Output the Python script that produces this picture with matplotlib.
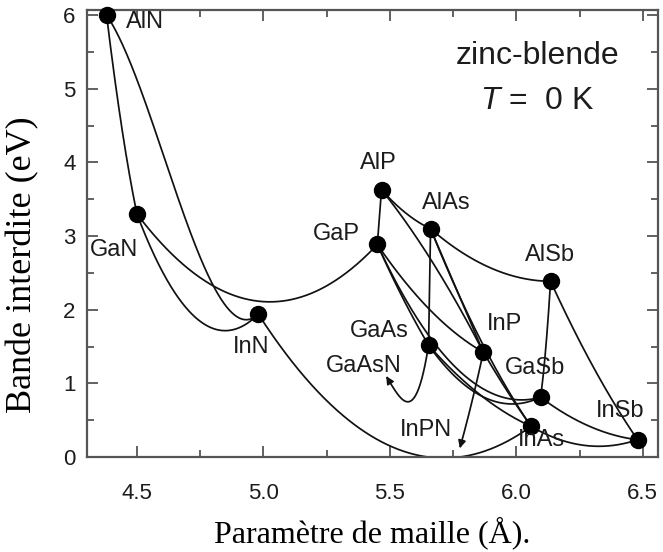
import numpy as np
import matplotlib
matplotlib.use("Agg")
import matplotlib.pyplot as plt
from matplotlib.ticker import MultipleLocator

# Binary zinc-blende compounds: lattice constant (Angstrom) and band gap at 0 K (eV)
compounds = ["AlN", "GaN", "InN", "AlP", "GaP", "AlAs", "GaAs", "InP",
             "AlSb", "GaSb", "InAs", "InSb"]
lattice = [4.38, 4.50, 4.98, 5.467, 5.4505, 5.661, 5.653, 5.8697,
           6.1355, 6.0959, 6.0583, 6.4794]
gaps = [6.00, 3.30, 1.94, 3.63, 2.886, 3.099, 1.519, 1.4236,
        2.386, 0.812, 0.417, 0.235]

# Ternary alloys (end members) and bowing coefficients b(x) = c0 + c1*x + ...
alloy_ends = [("AlN", "GaN"), ("AlN", "InN"), ("GaN", "InN"), ("GaN", "GaP"),
              ("InN", "InAs"), ("AlP", "GaP"), ("AlP", "AlAs"), ("AlAs", "AlSb"),
              ("AlAs", "GaAs"), ("GaP", "GaAs"), ("GaP", "InP"), ("GaP", "GaSb"),
              ("GaAs", "GaSb"), ("GaAs", "InAs"), ("InP", "InAs"), ("AlP", "InP"),
              ("AlAs", "InAs"), ("AlAs", "InP"), ("AlSb", "GaSb"), ("AlSb", "InSb"),
              ("GaSb", "InSb"), ("InAs", "InSb")]
alloy_bowing = [(0.7,), (-1.0, 7.0), (3.0,), (3.9,),
                (4.22,), (0.0,), (0.22,), (0.7,),
                (0.0,), (0.19,), (0.65,), (2.7,),
                (1.43,), (0.477,), (0.10,), (-0.48,),
                (0.70,), (0.0,), (0.6,), (0.43,),
                (0.415,), (0.67,)]

# Dilute nitrides drawn only up to a limited nitrogen fraction
dilute_ends = [("GaAs", "GaN"), ("InP", "InN")]
dilute_bowing = [(26.9, -226.0, 540.0), (14.5,)]
dilute_xmax = [0.145, 0.1045]

# Label text and anchor positions (lattice constant, gap)
label_text = ["AlN", "GaN", "InN", "AlP", "GaP", "AlAs", "AlSb", "GaAs", "InP",
              "GaAsN", "GaSb", "InPN", "InAs", "InSb"]
label_a = [4.53, 4.41, 4.95, 5.455, 5.29, 5.725, 6.133, 5.458, 5.953,
           5.395, 6.075, 5.642, 6.10, 6.412]
label_e = [5.90, 2.81, 1.49, 3.99, 3.03, 3.45, 2.74, 1.71, 1.81,
           1.23, 1.21, 0.37, 0.23, 0.63]

x_ticks = [4.5, 5.0, 5.5, 6.0, 6.5]
y_ticks = [0, 1, 2, 3, 4, 5, 6]

LINE = "#111111"
TXT = "#1c1c1c"
SANS = "Liberation Sans"
SERIF = "Liberation Serif"

plt.rcParams["mathtext.fontset"] = "custom"
plt.rcParams["mathtext.it"] = "Liberation Sans:italic"
plt.rcParams["mathtext.rm"] = "Liberation Sans"

props = {c: (a, e) for c, a, e in zip(compounds, lattice, gaps)}


def alloy_curve(a_name, b_name, coeffs, xmax=1.0, n=300):
    a1, e1 = props[a_name]
    a2, e2 = props[b_name]
    x = np.linspace(0.0, xmax, n)
    b = np.zeros_like(x)
    for k, c in enumerate(coeffs):
        b = b + c * x ** k
    a = (1 - x) * a1 + x * a2
    e = (1 - x) * e1 + x * e2 - b * x * (1 - x)
    return a, e


fig = plt.figure(figsize=(6.63, 5.52), dpi=100)
ax = fig.add_axes([0.131, 0.172, 0.861, 0.810])

for (p, q), coeffs in zip(alloy_ends, alloy_bowing):
    a, e = alloy_curve(p, q, coeffs)
    ax.plot(a, e, color=LINE, lw=1.25, solid_capstyle="round", zorder=2)

for (p, q), coeffs, xm in zip(dilute_ends, dilute_bowing, dilute_xmax):
    a, e = alloy_curve(p, q, coeffs, xmax=xm)
    ax.plot(a[:-6], e[:-6], color=LINE, lw=1.25, zorder=2)
    ax.annotate("", xy=(a[-1], e[-1]), xytext=(a[-12], e[-12]),
                arrowprops=dict(arrowstyle="-|>", color=LINE, lw=1.25,
                                mutation_scale=11, shrinkA=0, shrinkB=0),
                zorder=2)

ax.plot(lattice, gaps, "o", color="black", markersize=11.5, zorder=4,
        clip_on=False)

for t, a, e in zip(label_text, label_a, label_e):
    ax.text(a, e, t, ha="center", va="center", fontsize=17, family=SANS,
            color=TXT, zorder=5)

ax.text(6.083, 5.45, "zinc-blende", ha="center", va="center", fontsize=23,
        family=SANS, color=TXT)
ax.text(6.083, 4.83, r"$T$ =  0 K", ha="center", va="center", fontsize=23,
        family=SANS, color=TXT)

ax.set_xlim(4.302, 6.559)
ax.set_ylim(0, 6.07)
ax.xaxis.set_minor_locator(MultipleLocator(0.25))
ax.yaxis.set_minor_locator(MultipleLocator(0.5))
ax.set_xticks(x_ticks)
ax.set_xticklabels([f"{v:.1f}" for v in x_ticks])
ax.set_yticks(y_ticks)
ax.set_yticklabels([str(v) for v in y_ticks])

ax.tick_params(which="both", direction="in", top=True, right=True,
               color="#555555", width=1.3, labelsize=16, labelcolor=TXT)
ax.tick_params(axis="x", which="major", length=8, pad=19)
ax.tick_params(axis="y", which="major", length=8, pad=8)
ax.tick_params(which="minor", length=5)
for lab in ax.get_xticklabels() + ax.get_yticklabels():
    lab.set_family(SANS)
for s in ax.spines.values():
    s.set_color("#555555")
    s.set_linewidth(1.6)

ax.set_xlabel("Paramètre de maille (Å).", family=SERIF, fontsize=23,
              color="black")
ax.xaxis.set_label_coords(0.5, -0.133)
ax.set_ylabel("Bande interdite (eV)", family=SERIF, fontsize=26,
              color="black")
ax.yaxis.set_label_coords(-0.083, 0.43)

fig.savefig("out.png", dpi=100)
